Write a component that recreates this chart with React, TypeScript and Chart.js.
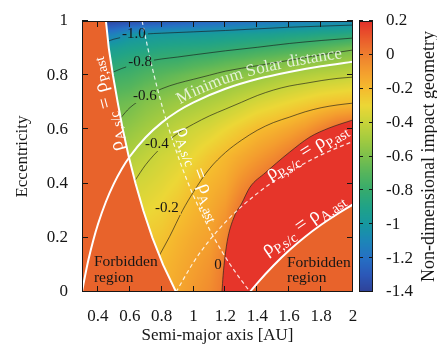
import React, { useEffect, useRef } from 'react';
import { Chart, registerables } from 'chart.js';

Chart.register(...registerables);

const FONT = '"Liberation Serif", "Times New Roman", serif';
const INK = '#161616';

// ---------- axes ----------
const X_TICKS = [0.4, 0.6, 0.8, 1, 1.2, 1.4, 1.6, 1.8, 2];
const E_TICKS = [0, 0.2, 0.4, 0.6, 0.8, 1];
const CB_TICKS = [-1.4, -1.2, -1, -0.8, -0.6, -0.4, -0.2, 0, 0.2];
const X_TITLE = 'Semi-major axis [AU]';
const Y_TITLE = 'Eccentricity';
const CB_TITLE = 'Non-dimensional impact geometry';

// ---------- colour map ----------
const CMAP_V = [-1.4, -1.3, -1.2, -1.1, -1.0, -0.9, -0.8, -0.7, -0.6, -0.5, -0.4, -0.3, -0.2, -0.1, 0, 0.1, 0.2];
const CMAP_C = ['#2f4298', '#2c58b8', '#2670c4', '#1d86b8', '#1798a0', '#20a388', '#36ab6e', '#55b55c', '#7cc04c',
  '#a3cb40', '#c8d43a', '#ecd736', '#f5bb2e', '#f49e2e', '#ef7f2f', '#ea5a2c', '#e5302a'];
const RED_COLOR = '#e6352a';
const FORBID_COLOR = '#e8632b';

// ---------- field grid ----------
const A_COLS = [0.3, 0.4, 0.5, 0.6, 0.7, 0.8, 0.9, 1.0, 1.1, 1.2, 1.3, 1.4, 1.5, 1.6, 1.7, 1.8, 1.9, 2.0];
const E_ROWS = [0, 0.1, 0.2, 0.3, 0.4, 0.5, 0.6, 0.7, 0.8, 0.85, 0.9, 0.95, 1.0];
const FIELD = [
  [-0.27, -0.25, -0.23, -0.19, -0.18, -0.17, -0.13, -0.08, -0.04, 0.03, 0.12, 0.15, 0.15, 0.15, 0.15, 0.15, 0.15, 0.15],
  [-0.32, -0.30, -0.28, -0.23, -0.20, -0.19, -0.15, -0.11, -0.07, 0.02, 0.12, 0.15, 0.15, 0.15, 0.15, 0.15, 0.15, 0.15],
  [-0.37, -0.35, -0.33, -0.28, -0.25, -0.23, -0.18, -0.14, -0.11, -0.03, 0.12, 0.12, 0.15, 0.15, 0.15, 0.15, 0.15, 0.15],
  [-0.43, -0.41, -0.38, -0.33, -0.31, -0.28, -0.23, -0.18, -0.14, -0.08, 0.04, 0.10, 0.12, 0.12, 0.15, 0.15, 0.15, 0.15],
  [-0.49, -0.47, -0.44, -0.38, -0.36, -0.33, -0.29, -0.22, -0.18, -0.14, -0.05, 0.02, 0.08, 0.10, 0.12, 0.15, 0.15, 0.15],
  [-0.55, -0.53, -0.50, -0.46, -0.42, -0.38, -0.35, -0.30, -0.24, -0.19, -0.14, -0.09, -0.04, 0.02, 0.10, 0.15, 0.15, 0.15],
  [-0.62, -0.60, -0.56, -0.54, -0.50, -0.46, -0.42, -0.38, -0.35, -0.30, -0.25, -0.20, -0.17, -0.13, -0.08, -0.01, 0.06, 0.10],
  [-0.70, -0.68, -0.65, -0.63, -0.58, -0.55, -0.52, -0.50, -0.47, -0.44, -0.40, -0.36, -0.33, -0.30, -0.27, -0.24, -0.22, -0.21],
  [-0.82, -0.80, -0.78, -0.76, -0.72, -0.69, -0.66, -0.63, -0.60, -0.58, -0.56, -0.54, -0.51, -0.48, -0.46, -0.44, -0.43, -0.41],
  [-0.90, -0.88, -0.86, -0.83, -0.80, -0.78, -0.77, -0.74, -0.72, -0.69, -0.67, -0.64, -0.62, -0.59, -0.57, -0.55, -0.53, -0.51],
  [-0.99, -0.97, -0.95, -0.92, -0.90, -0.88, -0.87, -0.86, -0.85, -0.83, -0.81, -0.79, -0.77, -0.75, -0.72, -0.69, -0.66, -0.63],
  [-1.18, -1.15, -1.12, -1.03, -1.00, -0.99, -0.98, -0.98, -0.97, -0.96, -0.95, -0.94, -0.93, -0.91, -0.90, -0.88, -0.87, -0.85],
  [-1.40, -1.40, -1.38, -1.36, -1.34, -1.32, -1.30, -1.27, -1.25, -1.23, -1.21, -1.19, -1.17, -1.15, -1.13, -1.11, -1.10, -1.09],
];

// ---------- curves (a, e) ----------
const MIN_SOLAR = [[0.3, 0], [0.31, 0.032], [0.32, 0.062], [0.34, 0.118], [0.37, 0.189], [0.4, 0.25], [0.45, 0.333],
  [0.5, 0.4], [0.55, 0.455], [0.6, 0.5], [0.7, 0.571], [0.8, 0.625], [0.9, 0.667], [1.0, 0.7], [1.2, 0.75],
  [1.4, 0.786], [1.6, 0.812], [1.8, 0.833], [2.0, 0.85]];
const LEFT_BOUND = [[0.45, 1], [0.468, 0.9], [0.494, 0.8], [0.524, 0.7], [0.556, 0.6], [0.593, 0.5], [0.636, 0.4],
  [0.685, 0.3], [0.742, 0.2], [0.809, 0.1], [0.89, 0]];
const LEFT_CORNER = [[0.3, 1]];
const RIGHT_BOUND = [[1.354, 0], [1.4, 0.033], [1.5, 0.097], [1.6, 0.154], [1.7, 0.204], [1.8, 0.248], [1.9, 0.287], [2.0, 0.323]];
const DASH_AA = [[0.677, 1], [0.713, 0.9], [0.752, 0.8], [0.796, 0.7], [0.846, 0.6], [0.903, 0.5], [0.967, 0.4],
  [1.042, 0.3], [1.128, 0.2], [1.231, 0.1], [1.354, 0]];
const DASH_PP = [[0.89, 0], [1.0, 0.11], [1.1, 0.191], [1.2, 0.258], [1.3, 0.315], [1.4, 0.364], [1.5, 0.407],
  [1.6, 0.444], [1.7, 0.476], [1.8, 0.506], [1.9, 0.532], [2.0, 0.555]];
const RED_BOUND = [[1.178, 0], [1.185, 0.06], [1.197, 0.13], [1.215, 0.2], [1.26, 0.285], [1.3, 0.325], [1.354, 0.387],
  [1.45, 0.44], [1.52, 0.476], [1.6, 0.515], [1.73, 0.572], [1.85, 0.605], [2.0, 0.635]];
const C_M10 = [[0.462, 0.925], [0.5, 0.933], [0.6, 0.945], [0.7, 0.952], [0.8, 0.955], [1.0, 0.96], [1.2, 0.965],
  [1.4, 0.971], [1.6, 0.977], [1.8, 0.981], [2.0, 0.985]];
const C_M08 = [[0.49, 0.81], [0.55, 0.825], [0.6, 0.835], [0.7, 0.85], [0.8, 0.86], [0.9, 0.867], [1.0, 0.875],
  [1.2, 0.89], [1.4, 0.903], [1.6, 0.917], [1.8, 0.928], [2.0, 0.937]];
const C_M06 = [[0.542, 0.642], [0.6, 0.68], [0.7, 0.72], [0.8, 0.75], [0.9, 0.77], [1.0, 0.785], [1.1, 0.8],
  [1.2, 0.815], [1.4, 0.835], [1.6, 0.855], [1.8, 0.875], [2.0, 0.893]];
const C_M04 = [[0.631, 0.41], [0.7, 0.47], [0.8, 0.535], [0.9, 0.585], [1.0, 0.62], [1.1, 0.65], [1.2, 0.675],
  [1.3, 0.7], [1.4, 0.725], [1.5, 0.745], [1.6, 0.76], [1.7, 0.77], [1.8, 0.78], [1.9, 0.788], [2.0, 0.793]];
const C_M02 = [[0.785, 0.135], [0.85, 0.205], [0.93, 0.3], [1.0, 0.37], [1.1, 0.455], [1.2, 0.515], [1.3, 0.56],
  [1.4, 0.597], [1.5, 0.625], [1.6, 0.645], [1.7, 0.665], [1.8, 0.68], [1.9, 0.69], [2.0, 0.697]];

// ---------- text ----------
const CONTOUR_TEXT = ['-1.0', '-0.8', '-0.6', '-0.4', '-0.2', '0'];
const FORBIDDEN_TEXT = ['Forbidden', 'region'];
const MIN_SOLAR_TEXT = 'Minimum Solar distance';
const RHO_TEXT = [
  [['ρ', 0], ['A,s/c', 1], [' = ρ', 0], ['P,ast', 1]],
  [['ρ', 0], ['A,s/c', 1], [' = ρ', 0], ['A,ast', 1]],
  [['ρ', 0], ['P,s/c', 1], [' = ρ', 0], ['P,ast', 1]],
  [['ρ', 0], ['P,s/c', 1], [' = ρ', 0], ['A,ast', 1]],
];

// ---------- layout of annotations (data units) ----------
const CONTOUR_LABEL_AT = [[0.626, 0.952], [0.664, 0.849], [0.695, 0.723], [0.77, 0.546], [0.833, 0.31], [1.153, 0.1]];
const FORBIDDEN_AT = [[0.375, 0.096, 0.037], [1.586, 0.092, 0.037]];
const RHO_AT = [
  { a: 0.446, e: 0.69, ang: -105 },
  { a: 1.04, e: 0.437, ang: 69 },
  { a: 1.705, e: 0.522, ang: -32 },
  { a: 1.683, e: 0.253, ang: -35 },
];
const MIN_SOLAR_TEXT_START = 0.93;

// ---------- helpers ----------
const toPts = (arr: number[][]) => arr.map(([x, y]) => ({ x, y }));
const hexRgb = (h: string) => { const n = parseInt(h.slice(1), 16); return [(n >> 16) & 255, (n >> 8) & 255, n & 255]; };
const CMAP_RGB = CMAP_C.map(hexRgb);

function colorOf(v: number) {
  const n = CMAP_V.length;
  if (v <= CMAP_V[0]) return CMAP_RGB[0];
  if (v >= CMAP_V[n - 1]) return CMAP_RGB[n - 1];
  for (let i = 0; i < n - 1; i++) {
    if (v <= CMAP_V[i + 1]) {
      const t = (v - CMAP_V[i]) / (CMAP_V[i + 1] - CMAP_V[i]);
      const c0 = CMAP_RGB[i], c1 = CMAP_RGB[i + 1];
      return [c0[0] + (c1[0] - c0[0]) * t, c0[1] + (c1[1] - c0[1]) * t, c0[2] + (c1[2] - c0[2]) * t];
    }
  }
  return CMAP_RGB[n - 1];
}

function seg(arr: number[], v: number): [number, number] {
  const n = arr.length;
  if (v <= arr[0]) return [0, 0];
  if (v >= arr[n - 1]) return [n - 2, 1];
  for (let i = 0; i < n - 1; i++) if (v <= arr[i + 1]) return [i, (v - arr[i]) / (arr[i + 1] - arr[i])];
  return [n - 2, 1];
}

function fieldAt(a: number, e: number) {
  const [ci, ct] = seg(A_COLS, a);
  const [ri, rt] = seg(E_ROWS, e);
  const r0 = FIELD[ri], r1 = FIELD[ri + 1];
  const v0 = r0[ci] * (1 - ct) + r0[ci + 1] * ct;
  const v1 = r1[ci] * (1 - ct) + r1[ci + 1] * ct;
  return v0 * (1 - rt) + v1 * rt;
}

function drawRich(ctx: any, segs: any[], cx: number, cy: number, angDeg: number, main: number, sub: number) {
  ctx.save();
  ctx.translate(cx, cy);
  ctx.rotate((angDeg * Math.PI) / 180);
  ctx.textAlign = 'left';
  ctx.textBaseline = 'alphabetic';
  const fm = `${main}px ${FONT}`, fs = `${sub}px ${FONT}`;
  let W = 0;
  const ws = segs.map(([t, s]) => { ctx.font = s ? fs : fm; const w = ctx.measureText(t).width; W += w; return w; });
  let x = -W / 2;
  const base = main * 0.3;
  segs.forEach(([t, s], i) => {
    ctx.font = s ? fs : fm;
    ctx.fillText(t, x, s ? base + main * 0.25 : base);
    x += ws[i];
  });
  ctx.restore();
}

function pathText(ctx: any, text: string, P: { x: number; y: number }[], startX: number, offset: number) {
  const cum = [0];
  for (let i = 1; i < P.length; i++) cum.push(cum[i - 1] + Math.hypot(P[i].x - P[i - 1].x, P[i].y - P[i - 1].y));
  const at = (d: number) => {
    let i = 0;
    while (i < P.length - 2 && cum[i + 1] < d) i++;
    const L = cum[i + 1] - cum[i] || 1;
    const t = (d - cum[i]) / L;
    return { x: P[i].x + (P[i + 1].x - P[i].x) * t, y: P[i].y + (P[i + 1].y - P[i].y) * t };
  };
  let d = 0;
  for (let i = 1; i < P.length; i++) {
    if (P[i].x >= startX) {
      const t = (startX - P[i - 1].x) / (P[i].x - P[i - 1].x);
      d = cum[i - 1] + t * (cum[i] - cum[i - 1]);
      break;
    }
  }
  for (const ch of text) {
    const w = ctx.measureText(ch).width;
    const m = d + w / 2;
    const p = at(m), p1 = at(m - 5), p2 = at(m + 5);
    const ang = Math.atan2(p2.y - p1.y, p2.x - p1.x);
    ctx.save();
    ctx.translate(p.x + Math.sin(ang) * offset, p.y - Math.cos(ang) * offset);
    ctx.rotate(ang);
    ctx.fillText(ch, 0, 0);
    ctx.restore();
    d += w;
  }
}

const fmt = (v: any) => String(Math.round(Number(v) * 10) / 10);
const noPad = (s: any) => { s.paddingTop = 0; s.paddingBottom = 0; s.paddingLeft = 0; s.paddingRight = 0; };

const fieldPlugin = {
  id: 'fieldPlugin',
  beforeDatasetsDraw(chart: any) {
    const { ctx, chartArea: ca, scales } = chart;
    const xs = scales.x, ys = scales.y;
    const L = Math.round(ca.left), T = Math.round(ca.top);
    const W = Math.round(ca.right) - L, H = Math.round(ca.bottom) - T;
    const off = document.createElement('canvas');
    off.width = W; off.height = H;
    const octx = off.getContext('2d') as CanvasRenderingContext2D;
    const img = octx.createImageData(W, H);
    for (let j = 0; j < H; j++) {
      const e = ys.getValueForPixel(T + j + 0.5);
      for (let i = 0; i < W; i++) {
        const a = xs.getValueForPixel(L + i + 0.5);
        const c = colorOf(fieldAt(a, e));
        const k = (j * W + i) * 4;
        img.data[k] = c[0]; img.data[k + 1] = c[1]; img.data[k + 2] = c[2]; img.data[k + 3] = 255;
      }
    }
    octx.putImageData(img, 0, 0);
    ctx.drawImage(off, L, T);
  },
  beforeDatasetDraw(chart: any, args: any) {
    const ds = chart.data.datasets[args.index];
    if (!ds.isContour) return;
    const { ctx, chartArea: ca, scales } = chart;
    ctx.save();
    ctx.font = `15px ${FONT}`;
    ctx.beginPath();
    ctx.rect(ca.left, ca.top, ca.right - ca.left, ca.bottom - ca.top);
    CONTOUR_TEXT.forEach((t, i) => {
      const px = scales.x.getPixelForValue(CONTOUR_LABEL_AT[i][0]);
      const py = scales.y.getPixelForValue(CONTOUR_LABEL_AT[i][1]);
      const w = ctx.measureText(t).width + 4;
      ctx.rect(px - w / 2, py - 7, w, 14);
    });
    ctx.clip('evenodd');
  },
  afterDatasetDraw(chart: any, args: any) {
    const ds = chart.data.datasets[args.index];
    if (!ds.isContour) return;
    chart.ctx.restore();
  },
  afterDatasetsDraw(chart: any) {
    const { ctx, chartArea: ca, scales } = chart;
    const xs = scales.x, ys = scales.y, cb = scales.cb;
    const X = (a: number) => xs.getPixelForValue(a);
    const Y = (e: number) => ys.getPixelForValue(e);

    ctx.save();
    ctx.beginPath();
    ctx.rect(ca.left, ca.top, ca.right - ca.left, ca.bottom - ca.top);
    ctx.clip();

    // contour labels
    ctx.fillStyle = INK;
    ctx.font = `15px ${FONT}`;
    ctx.textAlign = 'center';
    ctx.textBaseline = 'middle';
    CONTOUR_TEXT.forEach((t, i) => ctx.fillText(t, X(CONTOUR_LABEL_AT[i][0]), Y(CONTOUR_LABEL_AT[i][1])));

    // forbidden region
    ctx.font = `15.5px ${FONT}`;
    ctx.textAlign = 'left';
    ctx.textBaseline = 'alphabetic';
    FORBIDDEN_AT.forEach(([a, e1, e2]) => {
      ctx.fillText(FORBIDDEN_TEXT[0], X(a), Y(e1));
      ctx.fillText(FORBIDDEN_TEXT[1], X(a), Y(e2));
    });

    // rho labels
    ctx.fillStyle = '#ffffff';
    RHO_TEXT.forEach((segs, i) => drawRich(ctx, segs, X(RHO_AT[i].a), Y(RHO_AT[i].e), RHO_AT[i].ang, 20, 14));

    // minimum solar distance text
    ctx.font = `17px ${FONT}`;
    ctx.fillStyle = 'rgba(255,255,255,0.78)';
    ctx.textAlign = 'center';
    ctx.textBaseline = 'alphabetic';
    pathText(ctx, MIN_SOLAR_TEXT, MIN_SOLAR.map(([a, e]) => ({ x: X(a), y: Y(e) })), X(MIN_SOLAR_TEXT_START), 5);
    ctx.restore();

    // frame + inward ticks
    const L = Math.round(ca.left), R = Math.round(ca.right), T = Math.round(ca.top), B = Math.round(ca.bottom);
    ctx.save();
    ctx.strokeStyle = INK;
    ctx.lineWidth = 1;
    ctx.strokeRect(L + 0.5, T + 0.5, R - L - 1, B - T - 1);
    ctx.beginPath();
    X_TICKS.forEach((v) => {
      const px = Math.round(X(v)) - 0.5;
      ctx.moveTo(px, B); ctx.lineTo(px, B - 6);
      ctx.moveTo(px, T); ctx.lineTo(px, T + 6);
    });
    E_TICKS.forEach((v) => {
      const py = Math.round(Y(v)) - 0.5;
      ctx.moveTo(L, py); ctx.lineTo(L + 6, py);
      ctx.moveTo(R, py); ctx.lineTo(R - 6, py);
    });
    ctx.stroke();

    // colour bar
    const cx0 = R + 6, cw = 14;
    const cT = Math.round(cb.top), cB = Math.round(cb.bottom);
    for (let y = cT; y < cB; y++) {
      const c = colorOf(cb.getValueForPixel(y + 0.5));
      ctx.fillStyle = `rgb(${c[0] | 0},${c[1] | 0},${c[2] | 0})`;
      ctx.fillRect(cx0, y, cw, 1);
    }
    ctx.strokeRect(cx0 + 0.5, cT + 0.5, cw - 1, cB - cT - 1);
    ctx.beginPath();
    CB_TICKS.forEach((v) => {
      const py = Math.round(cb.getPixelForValue(v)) - 0.5;
      ctx.moveTo(cx0, py); ctx.lineTo(cx0 + 4, py);
      ctx.moveTo(cx0 + cw, py); ctx.lineTo(cx0 + cw - 4, py);
    });
    ctx.stroke();

    // colour bar title
    ctx.fillStyle = INK;
    ctx.font = `18px ${FONT}`;
    ctx.textAlign = 'center';
    ctx.textBaseline = 'middle';
    ctx.translate(429, (cT + cB) / 2);
    ctx.rotate(-Math.PI / 2);
    ctx.fillText(CB_TITLE, 0, 0);
    ctx.restore();
  },
};

export default function App() {
  const ref = useRef<HTMLCanvasElement>(null);
  useEffect(() => {
    if (!ref.current) return;
    const base = { pointRadius: 0, borderWidth: 1, fill: false, clip: 0, cubicInterpolationMode: 'monotone' };
    const contour = (d: number[][]) => ({ ...base, data: toPts(d), borderColor: 'rgba(25,25,25,0.62)', borderWidth: 1, isContour: true, order: 10 });
    const tickFont = { family: FONT, size: 17 };
    const chart = new Chart(ref.current, {
      type: 'line',
      data: {
        datasets: [
          { ...base, data: toPts(RED_BOUND), fill: 'origin', backgroundColor: RED_COLOR, borderColor: 'rgba(45,35,30,0.7)', borderWidth: 1, order: 20 },
          { ...base, data: toPts([...LEFT_CORNER, ...LEFT_BOUND]), fill: 'origin', backgroundColor: FORBID_COLOR, borderWidth: 0, cubicInterpolationMode: 'default', tension: 0, order: 19 },
          { ...base, data: toPts(RIGHT_BOUND), fill: 'origin', backgroundColor: FORBID_COLOR, borderColor: '#ffffff', borderWidth: 2, order: 18 },
          contour(C_M10), contour(C_M08), contour(C_M06), contour(C_M04), contour(C_M02),
          { ...base, data: toPts(DASH_AA), borderColor: 'rgba(255,255,255,0.85)', borderWidth: 1.2, borderDash: [4, 3], order: 5 },
          { ...base, data: toPts(DASH_PP), borderColor: 'rgba(255,255,255,0.85)', borderWidth: 1.2, borderDash: [4, 3], order: 5 },
          { ...base, data: toPts(LEFT_BOUND), borderColor: '#ffffff', borderWidth: 2, cubicInterpolationMode: 'default', tension: 0, order: 2 },
          { ...base, data: toPts(MIN_SOLAR), borderColor: '#ffffff', borderWidth: 2, order: 1 },
        ] as any,
      },
      options: {
        responsive: false,
        animation: false,
        devicePixelRatio: 1,
        events: [],
        layout: { padding: { top: 21, left: 0, right: 0, bottom: 0 }, autoPadding: false },
        plugins: { legend: { display: false }, tooltip: { enabled: false } },
        scales: {
          x: {
            type: 'linear', min: 0.3, max: 2, bounds: 'data',
            afterBuildTicks: (s: any) => { s.ticks = X_TICKS.map((v) => ({ value: v })); },
            ticks: { callback: fmt, font: tickFont, color: INK, padding: 14, maxRotation: 0, autoSkip: false },
            grid: { display: false, drawTicks: false },
            border: { display: false },
            title: { display: true, text: X_TITLE, font: tickFont, color: INK, padding: { top: 0, bottom: 0 } },
            afterFit: (s: any) => { s.height = 54; noPad(s); },
          },
          y: {
            type: 'linear', min: 0, max: 1, bounds: 'data',
            afterBuildTicks: (s: any) => { s.ticks = E_TICKS.map((v) => ({ value: v })); },
            ticks: { callback: fmt, font: tickFont, color: INK, padding: 14, autoSkip: false },
            grid: { display: false, drawTicks: false },
            border: { display: false },
            title: { display: true, text: Y_TITLE, font: tickFont, color: INK, padding: { top: 12, bottom: 0 } },
            afterFit: (s: any) => { s.width = 82; noPad(s); },
          },
          cb: {
            type: 'linear', position: 'right', min: -1.4, max: 0.2, bounds: 'data',
            afterBuildTicks: (s: any) => { s.ticks = CB_TICKS.map((v) => ({ value: v })); },
            ticks: { callback: fmt, font: tickFont, color: INK, padding: 33, autoSkip: false },
            grid: { display: false, drawTicks: false },
            border: { display: false },
            afterFit: (s: any) => { s.width = 84; noPad(s); },
          },
        },
      } as any,
      plugins: [fieldPlugin],
    });
    return () => chart.destroy();
  }, []);
  return (
    <div style={{ position: 'absolute', left: 0, top: 0, width: 437, height: 346 }}>
      <canvas ref={ref} width={437} height={346} style={{ display: 'block' }} />
    </div>
  );
}
